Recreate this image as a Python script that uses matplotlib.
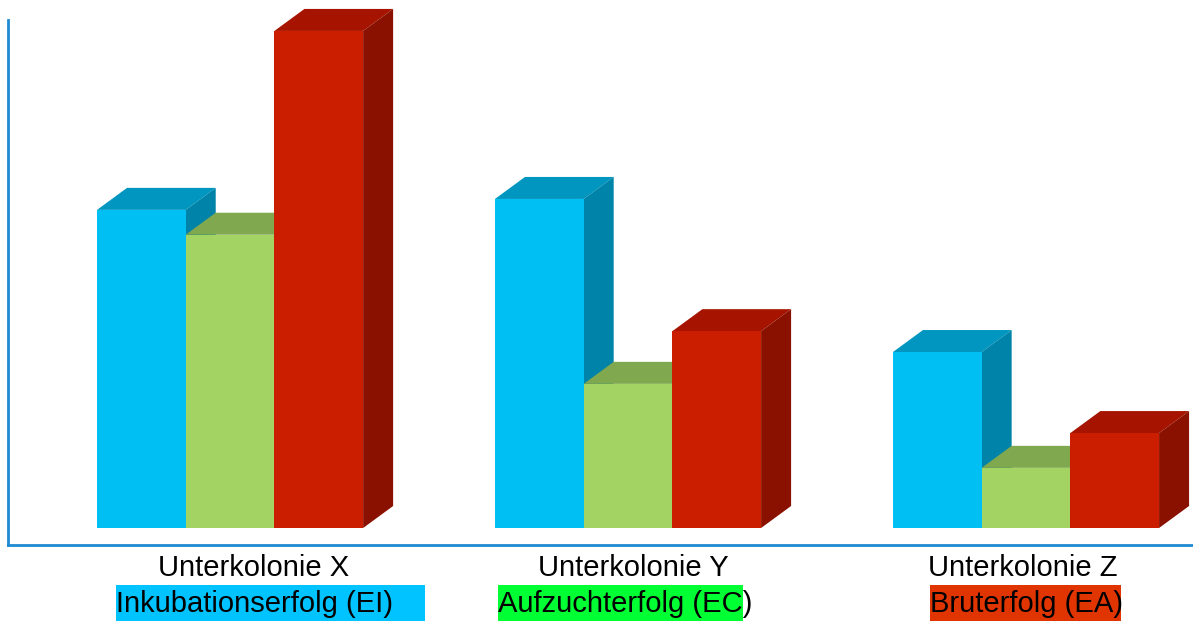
import matplotlib
matplotlib.use("Agg")
import matplotlib.pyplot as plt
from matplotlib.patches import Polygon, Rectangle

# --- data -----------------------------------------------------------------
groups = ["Unterkolonie X", "Unterkolonie Y", "Unterkolonie Z"]
series = ["Inkubationserfolg (EI)", "Aufzuchterfolg (EC)", "Bruterfolg (EA)"]
ei = [64.0, 66.2, 35.4]
ec = [59.0, 29.0, 12.1]
ea = [100.0, 39.6, 19.1]
values = [ei, ec, ea]

# --- styling --------------------------------------------------------------
front_cols = ["#00BFF3", "#A2D363", "#CB1D00"]
top_cols = ["#0096C0", "#80A84E", "#A61400"]
side_cols = ["#0083A8", "#6E9440", "#8A1100"]
label_bg = ["#00C3FF", "#00FF33", "#E03500"]
axis_col = "#1E8AD2"

W_PX, H_PX = 1193, 621
plt.rcParams["font.family"] = ["Liberation Sans", "DejaVu Sans"]

fig = plt.figure(figsize=(W_PX / 100, H_PX / 100), dpi=100)
ax_l, ax_r, ax_t, ax_b = 8, 1193, 20, 545
ax = fig.add_axes([ax_l / W_PX, 1 - ax_b / H_PX,
                   (ax_r - ax_l) / W_PX, (ax_b - ax_t) / H_PX])

xlim = (-0.558, 2.4196)
ylim = (-3.42, 102.2)
ax.set_xlim(*xlim)
ax.set_ylim(*ylim)

# data units per pixel, used for the oblique depth of the boxes
sx = (xlim[1] - xlim[0]) / (ax_r - ax_l)
sy = (ylim[1] - ylim[0]) / (ax_b - ax_t)
depth_x = 30 * sx
depth_y = 22 * sy
bw = 88.7 * sx

for s, vals in enumerate(values):
    lefts = [g + (s - 1.5) * bw for g in range(len(groups))]
    bars = ax.bar(lefts, vals, width=bw, align="edge", color=front_cols[s],
                  linewidth=0)
    for g, (patch, h) in enumerate(zip(bars, vals)):
        z = 10 * (g * 3 + s) + 2
        x0 = lefts[g]
        x1 = x0 + bw
        top = Polygon([(x0, h), (x1, h), (x1 + depth_x, h + depth_y),
                       (x0 + depth_x, h + depth_y)], closed=True,
                      facecolor=top_cols[s], edgecolor="none", zorder=z,
                      clip_on=False)
        side = Polygon([(x1, 0), (x1 + depth_x, depth_y),
                        (x1 + depth_x, h + depth_y), (x1, h)], closed=True,
                       facecolor=side_cols[s], edgecolor="none", zorder=z,
                       clip_on=False)
        ax.add_patch(top)
        ax.add_patch(side)
        patch.set_zorder(z + 1)
        patch.set_clip_on(False)

for side_name in ["top", "right"]:
    ax.spines[side_name].set_visible(False)
for side_name in ["left", "bottom"]:
    ax.spines[side_name].set_color(axis_col)
    ax.spines[side_name].set_linewidth(2)
ax.set_xticks([])
ax.set_yticks([])


def fx(px):
    return px / W_PX


def fy(py):
    return 1 - py / H_PX


# group captions
caption_x = [254, 633, 1023]
for name, cx in zip(groups, caption_x):
    fig.text(fx(cx), fy(568), name, ha="center", va="center", fontsize=21,
             color="black")

# series labels with coloured backgrounds
box_extent = [(116, 425), (498, 743), (930, 1121)]
for name, (bx0, bx1), bg in zip(series, box_extent, label_bg):
    fig.patches.append(Rectangle((fx(bx0), fy(621)), fx(bx1) - fx(bx0),
                                 fy(585) - fy(621), transform=fig.transFigure,
                                 facecolor=bg, edgecolor="none", zorder=1))
    fig.text(fx(bx0), fy(612), name, ha="left", va="baseline", fontsize=21,
             color="black", zorder=2)

fig.savefig("out.png", dpi=100)
